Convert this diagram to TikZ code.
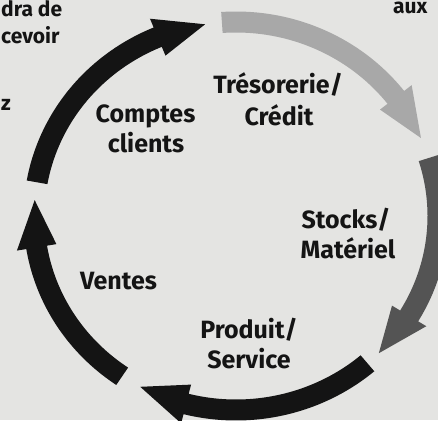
\documentclass[tikz,border=0pt]{standalone}
\usepackage{fontspec}
\setmainfont{Fira Sans}
\definecolor{bgc}{HTML}{E4E4E2}
\definecolor{inkc}{HTML}{141414}
\definecolor{lightarr}{HTML}{A8A8A8}
\definecolor{darkarr}{HTML}{545454}
\def\cx{236}\def\cy{216}\def\rx{202}\def\ry{194}
\def\hw{10.5}\def\hh{20}\def\headang{14}
\newcommand\cyclearrow[3]{%
  \pgfmathsetmacro\baseang{#2+\headang}%
  \fill[#3] plot[domain=#1:\baseang,samples=60] ({\cx+(\rx+\hw)*cos(\x)},{\cy-(\ry+\hw)*sin(\x)})
    -- ({\cx+(\rx+\hh)*cos(\baseang)},{\cy-(\ry+\hh)*sin(\baseang)})
    -- ({\cx+\rx*cos(#2)},{\cy-\ry*sin(#2)})
    -- ({\cx+(\rx-\hh)*cos(\baseang)},{\cy-(\ry-\hh)*sin(\baseang)})
    -- plot[domain=\baseang:#1,samples=60] ({\cx+(\rx-\hw)*cos(\x)},{\cy-(\ry-\hw)*sin(\x)})
    -- cycle;}
\tikzset{
  lbl/.style={text=inkc, inner sep=0pt, anchor=base, font=\fontsize{25}{30}\selectfont\bfseries},
  frag/.style={text=inkc, inner sep=0pt, anchor=base west, font=\fontsize{21}{25}\selectfont\bfseries},
}
\begin{document}
\begin{tikzpicture}[x=1pt,y=-1pt]
\useasboundingbox (0,0) rectangle (438,420);
\clip (0,0) rectangle (438,420);
\fill[bgc] (0,0) rectangle (438,420);
% arrows of the cycle (clockwise)
\cyclearrow{170}{98.8}{inkc}
\cyclearrow{94}{23.7}{lightarr}
\cyclearrow{17.4}{-45}{darkarr}
\cyclearrow{-49.4}{-118.3}{inkc}
\cyclearrow{235.7}{175.3}{inkc}
% labels
\node[lbl] (tres1) at (278,93) {Trésorerie/};
\node[lbl] (tres2) at (279,125) {Crédit};
\node[lbl] (comp1) at (145.5,122) {Comptes};
\node[lbl] (comp2) at (146,152) {clients};
\node[lbl] (stock1) at (346,228) {Stocks/};
\node[lbl] (stock2) at (348,258) {Matériel};
\node[lbl] (vent) at (118.5,289) {Ventes};
\node[lbl] (prod1) at (249,338) {Produit/};
\node[lbl] (prod2) at (249,368) {Service};
% text fragments at the edges
\node[frag] (f1) at (1,17) {dra de};
\node[frag] (f2) at (1,44) {cevoir};
\node[frag] (f3) at (1,110) {z};
\node[frag] (f4) at (393,14) {aux};
\end{tikzpicture}
\end{document}
